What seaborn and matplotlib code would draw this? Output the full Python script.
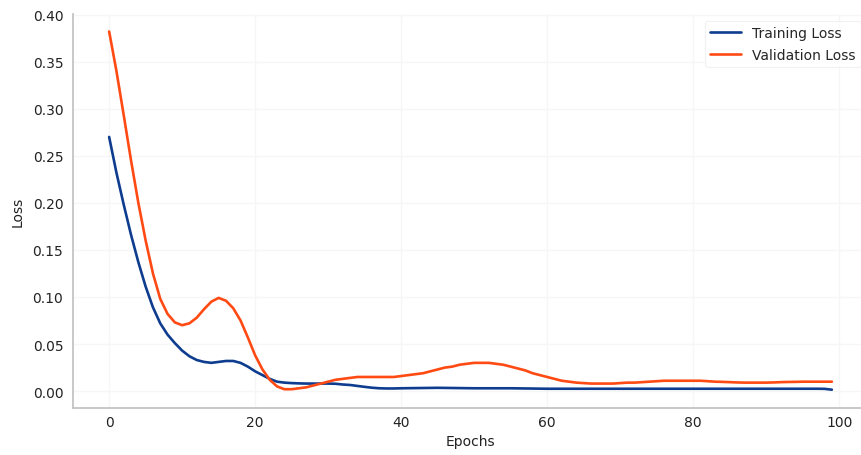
import numpy as np
import pandas as pd
import matplotlib
matplotlib.use("Agg")
import matplotlib.pyplot as plt
import seaborn as sns

epochs = list(range(100))

training_loss = [
    0.270, 0.232, 0.198, 0.166, 0.137, 0.111, 0.089, 0.072, 0.060, 0.051,
    0.043, 0.037, 0.033, 0.031, 0.030, 0.031, 0.032, 0.032, 0.030, 0.026,
    0.021, 0.017, 0.013, 0.010, 0.009, 0.0085, 0.0082, 0.008, 0.008, 0.008,
    0.008, 0.0078, 0.007, 0.0065, 0.0055, 0.0045, 0.0036, 0.003, 0.0028, 0.0028,
    0.003, 0.0031, 0.0032, 0.0033, 0.0034, 0.0035, 0.0034, 0.0033, 0.0032, 0.0031,
    0.003, 0.003, 0.003, 0.003, 0.003, 0.003, 0.0029, 0.0028, 0.0027, 0.0026,
    0.0025, 0.0025, 0.0025, 0.0025, 0.0025, 0.0025, 0.0025, 0.0025, 0.0025, 0.0025,
    0.0025, 0.0025, 0.0025, 0.0025, 0.0025, 0.0025, 0.0025, 0.0025, 0.0025, 0.0025,
    0.0025, 0.0025, 0.0025, 0.0025, 0.0025, 0.0025, 0.0025, 0.0025, 0.0025, 0.0025,
    0.0025, 0.0025, 0.0025, 0.0025, 0.0025, 0.0025, 0.0025, 0.0025, 0.0024, 0.0015,
]

validation_loss = [
    0.382, 0.340, 0.293, 0.245, 0.200, 0.160, 0.125, 0.098, 0.082, 0.073,
    0.070, 0.072, 0.078, 0.087, 0.095, 0.099, 0.096, 0.088, 0.075, 0.057,
    0.038, 0.023, 0.012, 0.005, 0.002, 0.002, 0.003, 0.004, 0.006, 0.008,
    0.010, 0.012, 0.013, 0.014, 0.015, 0.015, 0.015, 0.015, 0.015, 0.015,
    0.016, 0.017, 0.018, 0.019, 0.021, 0.023, 0.025, 0.026, 0.028, 0.029,
    0.030, 0.030, 0.030, 0.029, 0.028, 0.026, 0.024, 0.022, 0.019, 0.017,
    0.015, 0.013, 0.011, 0.010, 0.009, 0.0085, 0.008, 0.008, 0.008, 0.008,
    0.0085, 0.009, 0.009, 0.0095, 0.010, 0.0105, 0.011, 0.011, 0.011, 0.011,
    0.011, 0.011, 0.0105, 0.010, 0.0098, 0.0095, 0.0092, 0.009, 0.009, 0.009,
    0.009, 0.0092, 0.0095, 0.0097, 0.0098, 0.010, 0.010, 0.010, 0.010, 0.010,
]

series_names = ["Training Loss", "Validation Loss"]
colors = ["#0e3c8e", "#ff4a14"]

df = pd.DataFrame({
    "Epochs": epochs * 2,
    "Loss": training_loss + validation_loss,
    "Series": [series_names[0]] * len(epochs) + [series_names[1]] * len(epochs),
})

sns.set_theme(style="whitegrid")
plt.rcParams["font.family"] = ["DejaVu Sans"]

fig = plt.figure(figsize=(8.61, 4.56), dpi=100)
# axes extends slightly past the right edge, as in the (cropped) reference
ax = fig.add_axes([73 / 861, 0.104, (868 - 73) / 861, 0.864])

sns.lineplot(data=df, x="Epochs", y="Loss", hue="Series",
             palette=dict(zip(series_names, colors)), linewidth=1.9, ax=ax)

ax.set_xlim(-4.95, 103.95)
ax.set_ylim(-0.0175, 0.401)
ax.set_xticks([0, 20, 40, 60, 80, 100])
ax.set_yticks([0.0, 0.05, 0.10, 0.15, 0.20, 0.25, 0.30, 0.35, 0.40])
ax.yaxis.set_major_formatter(matplotlib.ticker.FormatStrFormatter("%.2f"))

ax.grid(True, color="#f6f6f6", linewidth=1.0)
for side in ["top", "right"]:
    ax.spines[side].set_visible(False)
for side in ["left", "bottom"]:
    ax.spines[side].set_color("#c4c4c4")
    ax.spines[side].set_linewidth(1.3)

ax.tick_params(axis="both", length=0, labelsize=10, colors="#222222")
ax.tick_params(axis="x", pad=5.5)
ax.tick_params(axis="y", pad=7)
ax.set_xlabel("Epochs", fontsize=10, color="#222222", labelpad=3.5)
ax.set_ylabel("Loss", fontsize=10, color="#222222", labelpad=6)

leg = ax.legend(title=None, loc="upper right", fontsize=10, frameon=True,
                handlelength=2.2, labelspacing=0.55)
leg.get_frame().set_edgecolor("#eeeeee")
leg.get_frame().set_linewidth(0.8)
for line in leg.get_lines():
    line.set_linewidth(1.9)

fig.savefig("out.png", dpi=100)
